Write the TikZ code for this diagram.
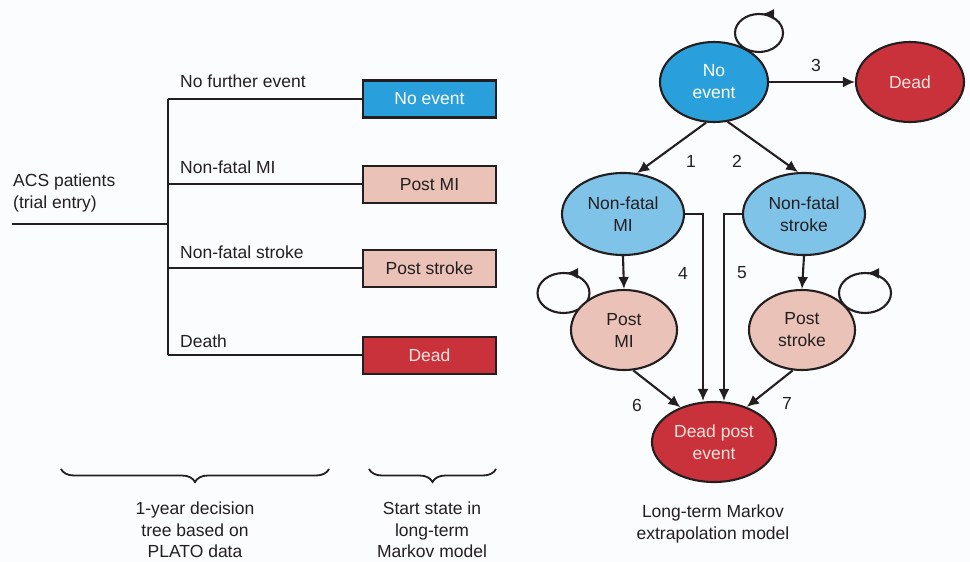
\documentclass[tikz,border=0pt]{standalone}
\usepackage{fontspec}
\setmainfont{Liberation Sans}
\usetikzlibrary{arrows.meta,shapes.geometric,decorations.pathreplacing,calc}
\definecolor{bgc}{HTML}{FBFCFE}
\definecolor{inkc}{HTML}{231F20}
\definecolor{blueA}{HTML}{29A0DB}
\definecolor{blueB}{HTML}{80C3E9}
\definecolor{pinkA}{HTML}{EBC2B7}
\definecolor{redA}{HTML}{C9323A}
\definecolor{lightT}{HTML}{F8E2DE}
\begin{document}
\begin{tikzpicture}[x=1pt,y=-1pt,
  every node/.style={font=\fontsize{17.5}{22}\selectfont, text=inkc},
  lne/.style={draw=inkc, line width=2.2pt},
  boxst/.style={draw=inkc, line width=2.6pt, minimum width=133pt, minimum height=37pt, inner sep=0pt},
  stateA/.style={ellipse, draw=inkc, line width=2.1pt, inner sep=0pt, align=center},
  arr/.style={draw=inkc, line width=2.1pt, -{Latex[length=12pt,width=11pt]}},
  loopst/.style={draw=inkc, line width=2.1pt},
  lbl/.style={inner sep=0pt},
  brc/.style={draw=inkc, line width=1.8pt, decorate, decoration={brace, mirror, amplitude=13pt}}
]
\useasboundingbox (0,0) rectangle (970,562);
\fill[bgc] (0,0) rectangle (970,562);

% ---------------- decision tree ----------------
\coordinate (root) at (12,224);
\coordinate (jr) at (168,224);
\coordinate (j1) at (168,99);
\coordinate (j2) at (168,184);
\coordinate (j3) at (168,268);
\coordinate (j4) at (168,355);

\node[boxst, fill=blueA] (b1) at (429.5,99) {\textcolor{white}{No event}};
\node[boxst, fill=pinkA] (b2) at (429.5,184.5) {Post MI};
\node[boxst, fill=pinkA] (b3) at (429.5,268.5) {Post stroke};
\node[boxst, fill=redA] (b4) at (429.5,355.5) {\textcolor{lightT}{Dead}};

\draw[lne] (root) -- (jr);
\draw[lne] (j1) -- (j4);
\draw[lne] (j1) -- (j1 -| b1.west);
\draw[lne] (j2) -- (j2 -| b2.west);
\draw[lne] (j3) -- (j3 -| b3.west);
\draw[lne] (j4) -- (j4 -| b4.west);

\node[lbl, anchor=base west] (t1) at (180,87) {No further event};
\node[lbl, anchor=base west] (t2) at (180,173) {Non-fatal MI};
\node[lbl, anchor=base west] (t3) at (180,258) {Non-fatal stroke};
\node[lbl, anchor=base west] (t4) at (180,347) {Death};
\node[lbl, anchor=north west, align=left] (acs) at (13,174) {ACS patients\\(trial entry)};

% ---------------- Markov model ----------------
% self loops (drawn first, states cover them)
\draw[loopst] (759,33) ellipse [x radius=24pt, y radius=19pt];
\draw[draw=inkc, line width=2.1pt, -{Latex[length=12pt,width=11pt]}] (773,14.3) -- (762,14);
\draw[loopst] (563.5,293) ellipse [x radius=26pt, y radius=20pt];
\draw[draw=inkc, line width=2.1pt, -{Latex[length=12pt,width=11pt]}] (578,273.3) -- (566,273);
\draw[loopst] (865,293) ellipse [x radius=26pt, y radius=20pt];
\draw[draw=inkc, line width=2.1pt, -{Latex[length=12pt,width=11pt]}] (879,273.3) -- (867,273);

\node[stateA, fill=blueA, minimum width=108pt, minimum height=80pt] (ne) at (714,82) {\textcolor{white}{No}\\\textcolor{white}{event}};
\node[stateA, fill=redA, minimum width=108pt, minimum height=80pt] (dead) at (910,82) {\textcolor{lightT}{Dead}};
\node[stateA, fill=blueB, minimum width=122pt, minimum height=82pt] (nfmi) at (623,214) {Non-fatal\\MI};
\node[stateA, fill=blueB, minimum width=122pt, minimum height=82pt] (nfs) at (804,214) {Non-fatal\\stroke};
\node[stateA, fill=pinkA, minimum width=106pt, minimum height=80pt] (pmi) at (624,330) {Post\\MI};
\node[stateA, fill=pinkA, minimum width=106pt, minimum height=80pt] (ps) at (802,330) {Post\\stroke};
\node[stateA, fill=redA, minimum width=124pt, minimum height=80pt] (dpe) at (714,442) {\textcolor{lightT}{Dead post}\\\textcolor{lightT}{event}};

\draw[arr] (ne.east) -- (dead.west);
\draw[arr] (ne.259) -- (nfmi.71);
\draw[arr] (ne.289) -- (nfs.98);
\draw[arr] (nfmi.south) -- (pmi.north);
\draw[arr] (nfs.south) -- (ps.north);
\draw[arr] (nfmi.east) -| ([xshift=-11pt]dpe.north);
\draw[arr] (nfs.west) -| ([xshift=10pt]dpe.north);
\draw[arr] (pmi.283) -- (dpe.134);
\draw[arr] (ps.257) -- (dpe.47);

\node[lbl] (n3) at (816,65) {3};
\node[lbl] (n1) at (691,161) {1};
\node[lbl] (n2) at (737,161) {2};
\node[lbl] (n4) at (683,273) {4};
\node[lbl] (n5) at (742,273) {5};
\node[lbl] (n6) at (637,405) {6};
\node[lbl] (n7) at (787,403) {7};

% ---------------- braces and captions ----------------
\coordinate (br1a) at (61,469);
\coordinate (br1b) at (329,469);
\coordinate (br2a) at (369,469);
\coordinate (br2b) at (496,469);
\draw[brc] (br1a) -- (br1b);
\draw[brc] (br2a) -- (br2b);

\node[lbl, anchor=north, align=center, font=\fontsize{17.5}{21.5}\selectfont] (c1) at (195,502) {1-year decision\\tree based on\\PLATO data};
\node[lbl, anchor=north, align=center, font=\fontsize{17.5}{21.5}\selectfont] (c2) at (432,502) {Start state in\\long-term\\Markov model};
\node[lbl, anchor=north, align=center] (c3) at (713,505) {Long-term Markov\\extrapolation model};
\end{tikzpicture}
\end{document}
